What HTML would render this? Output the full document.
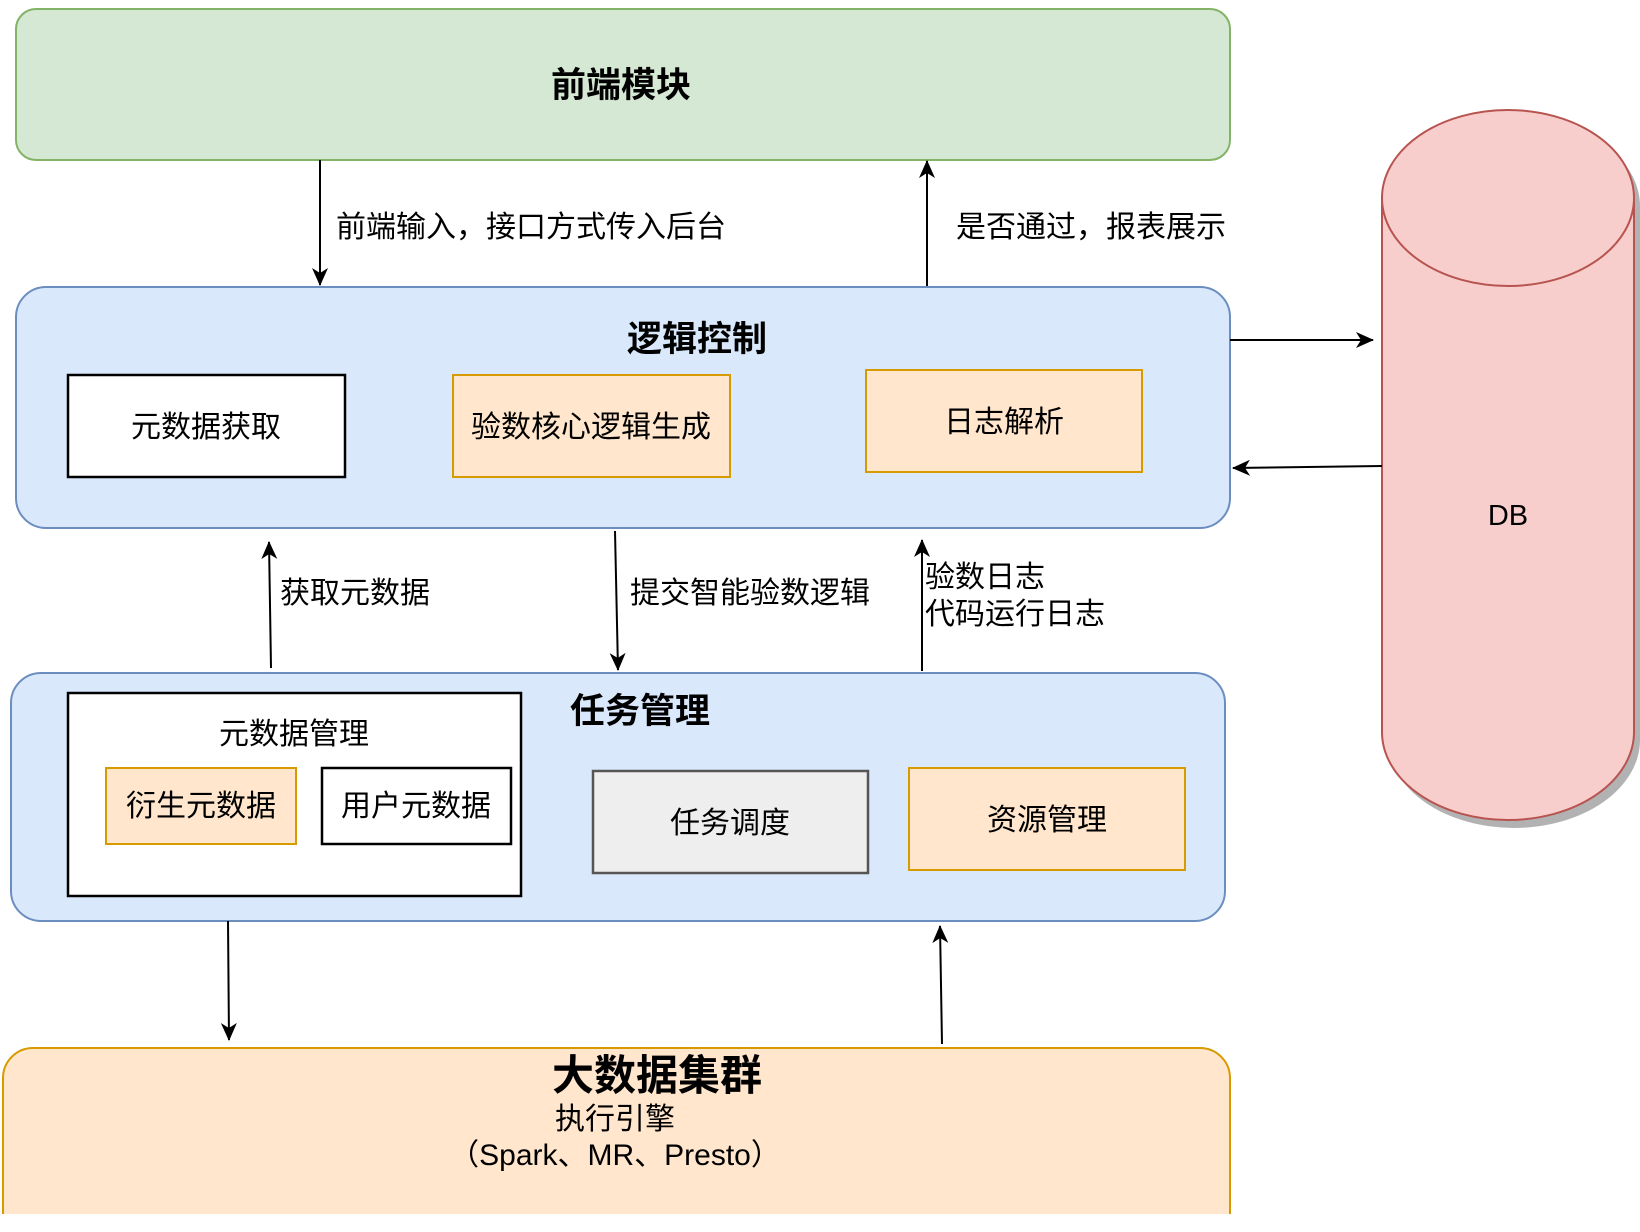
<!DOCTYPE html>
<html><head><meta charset="utf-8"><style>
html,body{margin:0;padding:0;background:#fff;}
svg{display:block;}
text{font-family:"Liberation Sans","Noto Sans CJK SC",sans-serif;fill:#000;}
</style></head><body>
<svg width="1640" height="1232" viewBox="0 0 1640 1232" xmlns="http://www.w3.org/2000/svg">
<defs>
<marker id="a" markerWidth="20" markerHeight="16" refX="17" refY="8" orient="auto" markerUnits="userSpaceOnUse">
<path d="M0,0 L18,8 L0,16 L5,8 Z" fill="#000"/>
</marker>
</defs>
<!-- front -->
<rect x="16" y="9" width="1214" height="151" rx="20" fill="#d5e8d4" stroke="#82b366" stroke-width="2"/>
<text x="621" y="97" font-size="35" font-weight="bold" text-anchor="middle">前端模块</text>
<!-- logic -->
<rect x="16" y="287" width="1214" height="241" rx="30" fill="#dae8fc" stroke="#6c8ebf" stroke-width="2"/>
<text x="697" y="351" font-size="35" font-weight="bold" text-anchor="middle">逻辑控制</text>
<rect x="68" y="375" width="277" height="102" fill="#fff" stroke="#000" stroke-width="2.5"/>
<text x="206" y="437" font-size="30" text-anchor="middle">元数据获取</text>
<rect x="453" y="375" width="277" height="102" fill="#ffe6cc" stroke="#d79b00" stroke-width="2"/>
<text x="591" y="437" font-size="30" text-anchor="middle">验数核心逻辑生成</text>
<rect x="866" y="370" width="276" height="102" fill="#ffe6cc" stroke="#d79b00" stroke-width="2"/>
<text x="1004" y="432" font-size="30" text-anchor="middle">日志解析</text>
<!-- task -->
<rect x="11" y="673" width="1214" height="248" rx="30" fill="#dae8fc" stroke="#6c8ebf" stroke-width="2"/>
<text x="640" y="723" font-size="35" font-weight="bold" text-anchor="middle">任务管理</text>
<rect x="68" y="693" width="453" height="203" fill="#fff" stroke="#000" stroke-width="2.5"/>
<text x="294" y="744" font-size="30" text-anchor="middle">元数据管理</text>
<rect x="106" y="768" width="190" height="76" fill="#ffe6cc" stroke="#d79b00" stroke-width="2"/>
<text x="201" y="816" font-size="30" text-anchor="middle">衍生元数据</text>
<rect x="322" y="768" width="189" height="76" fill="#fff" stroke="#000" stroke-width="2.5"/>
<text x="416" y="816" font-size="30" text-anchor="middle">用户元数据</text>
<rect x="593" y="771" width="275" height="102" fill="#eeeeee" stroke="#555" stroke-width="2.5"/>
<text x="730" y="833" font-size="30" text-anchor="middle">任务调度</text>
<rect x="909" y="768" width="276" height="102" fill="#ffe6cc" stroke="#d79b00" stroke-width="2"/>
<text x="1047" y="830" font-size="30" text-anchor="middle">资源管理</text>
<!-- bottom -->
<rect x="3" y="1048" width="1227" height="230" rx="30" fill="#ffe6cc" stroke="#d79b00" stroke-width="2"/>
<rect x="0" y="1214" width="1640" height="18" fill="#fff"/>
<text x="657" y="1090" font-size="42" font-weight="bold" text-anchor="middle">大数据集群</text>
<text x="615" y="1129" font-size="30" text-anchor="middle">执行引擎</text>
<text x="615" y="1165" font-size="30" text-anchor="middle">（Spark、MR、Presto）</text>
<!-- DB -->
<g transform="translate(6,8)" opacity="0.3">
<path d="M1382,198 A126,88 0 0 1 1634,198 L1634,732 A126,88 0 0 1 1382,732 Z" fill="#000"/>
</g>
<path d="M1382,198 A126,88 0 0 1 1634,198 L1634,732 A126,88 0 0 1 1382,732 Z" fill="#f8cecc" stroke="#b85450" stroke-width="2"/>
<path d="M1382,198 A126,88 0 0 0 1634,198" fill="none" stroke="#b85450" stroke-width="2"/>
<text x="1508" y="525" font-size="29" text-anchor="middle">DB</text>
<!-- arrows -->
<g stroke="#000" stroke-width="2" fill="none" marker-end="url(#a)">
<line x1="320" y1="160" x2="320" y2="285"/>
<line x1="927" y1="286" x2="927" y2="161"/>
<line x1="1230" y1="340" x2="1373" y2="340"/>
<line x1="1382" y1="466" x2="1233" y2="468"/>
<line x1="271" y1="668" x2="269" y2="542"/>
<line x1="615" y1="531" x2="618" y2="670"/>
<line x1="922" y1="671" x2="922" y2="540"/>
<line x1="228" y1="921" x2="229" y2="1040"/>
<line x1="942" y1="1044" x2="940" y2="926"/>
</g>
<g font-size="30">
<text x="336" y="237">前端输入，接口方式传入后台</text>
<text x="956" y="237">是否通过，报表展示</text>
<text x="280" y="603">获取元数据</text>
<text x="630" y="603">提交智能验数逻辑</text>
<text x="925" y="587">验数日志</text>
<text x="925" y="624">代码运行日志</text>
</g>
</svg>
</body></html>
